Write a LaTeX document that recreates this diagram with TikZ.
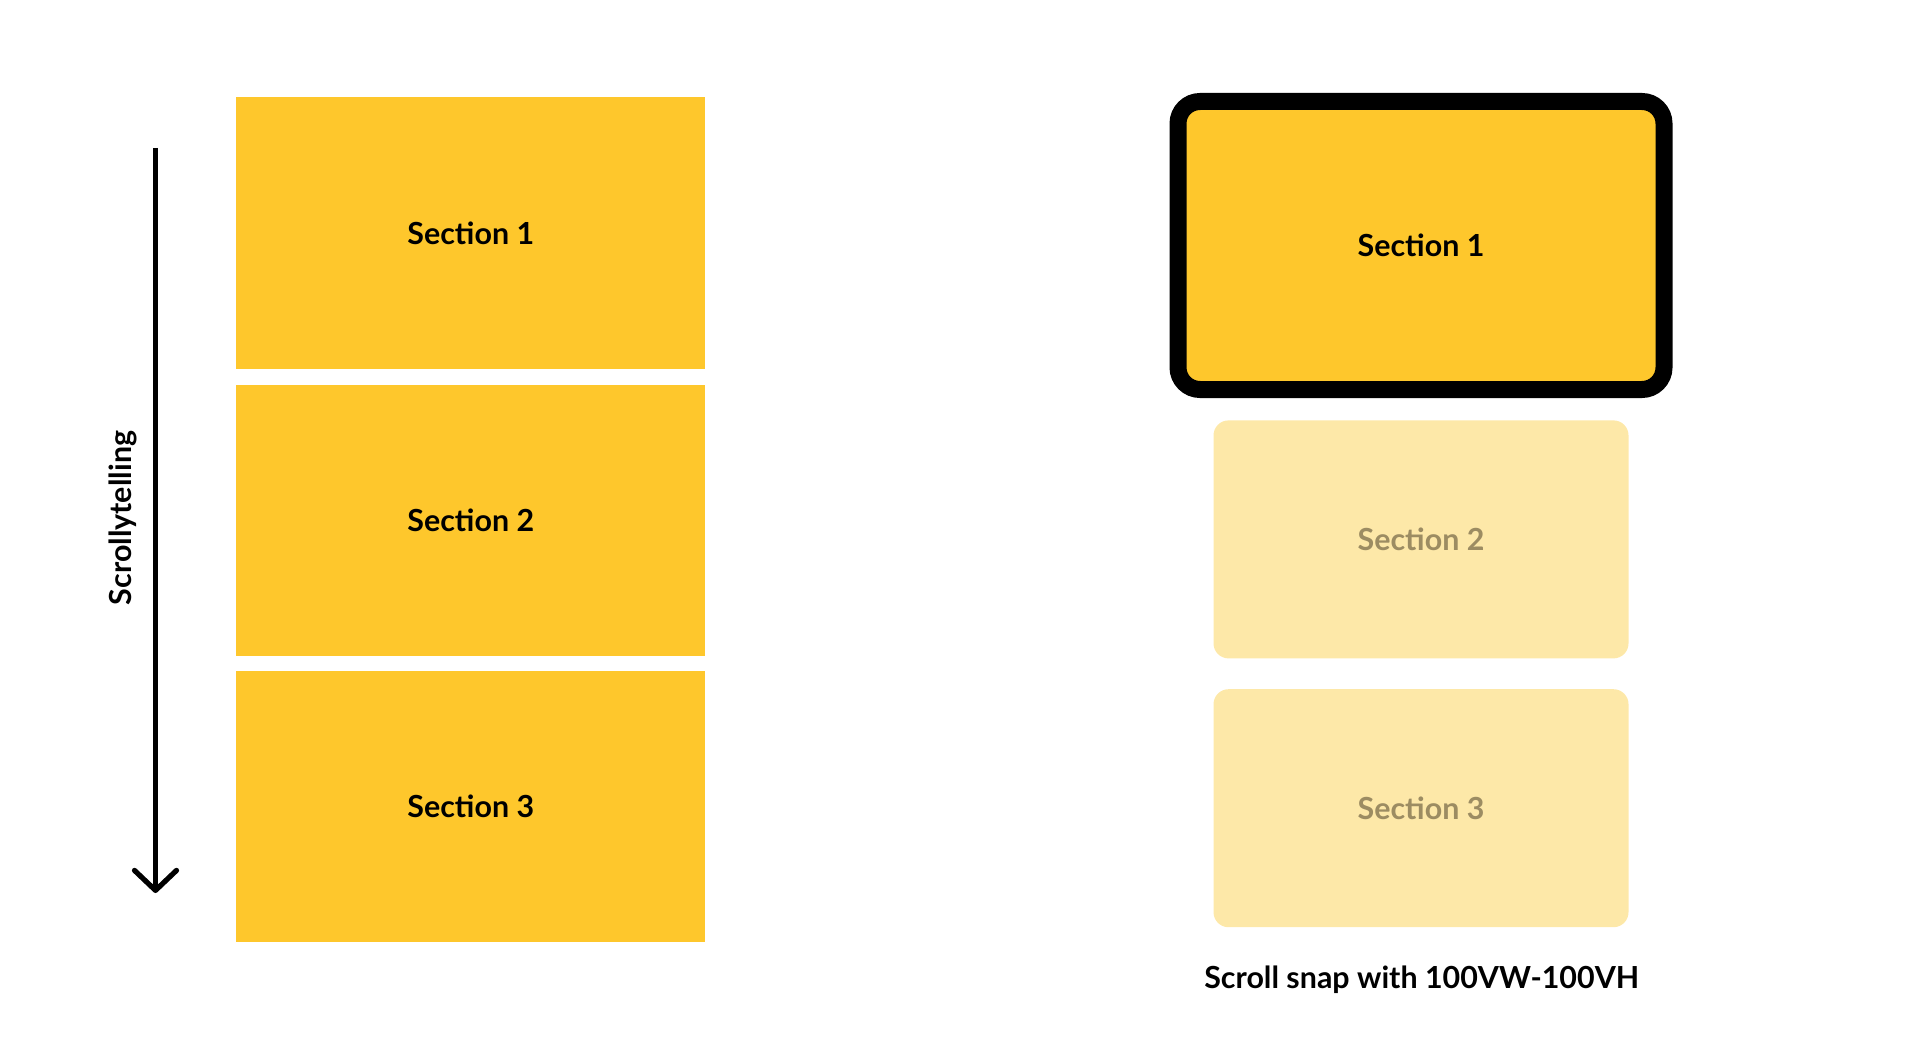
\documentclass[tikz,border=0pt]{standalone}
\usepackage{fontspec}
\setmainfont{Lato}
\usetikzlibrary{arrows.meta}
\definecolor{yel}{HTML}{FEC72C}
\definecolor{paleyel}{HTML}{FDE8A8}
\definecolor{paletext}{HTML}{9C8C62}
\tikzset{
  txt/.style={font=\fontsize{15.2}{17}\selectfont\bfseries},
  leftbox/.style={txt, fill=yel, draw=none, minimum width=234.5pt, minimum height=135.5pt, inner sep=0pt},
  activebox/.style={txt, fill=yel, draw=black, line width=8.5pt, rounded corners=11pt, minimum width=243pt, minimum height=144pt, inner sep=0pt},
  fadedbox/.style={txt, fill=paleyel, draw=none, rounded corners=7.5pt, minimum width=207.5pt, minimum height=119pt, inner sep=0pt, text=paletext},
  label/.style={txt, inner sep=0pt},
}
\begin{document}
\begin{tikzpicture}[x=0.5pt, y=-0.5pt]
\useasboundingbox (0,0) rectangle (1920,1037);
% left stack
\node[leftbox] (l1) at (470.8,233) {Section 1};
\node[leftbox] (l2) at (470.8,520) {Section 2};
\node[leftbox] (l3) at (470.8,806) {Section 3};
% scroll arrow
\coordinate (astart) at (155.5,148);
\coordinate (aend) at (155.5,893);
\draw[line width=2.6pt, -{Straight Barb[length=10pt, width=21pt, line cap=round, line join=round]}] (astart) -- (aend);
\node[label, rotate=90] (scl) at (123,518) {Scrollytelling};
% right stack
\node[activebox] (r1) at (1421,245.5) {Section 1};
\node[fadedbox] (r2) at (1421,539.4) {Section 2};
\node[fadedbox] (r3) at (1421,808.2) {Section 3};
\node[label] (cap) at (1421.7,980) {Scroll snap with 100VW-100VH};
\end{tikzpicture}
\end{document}
